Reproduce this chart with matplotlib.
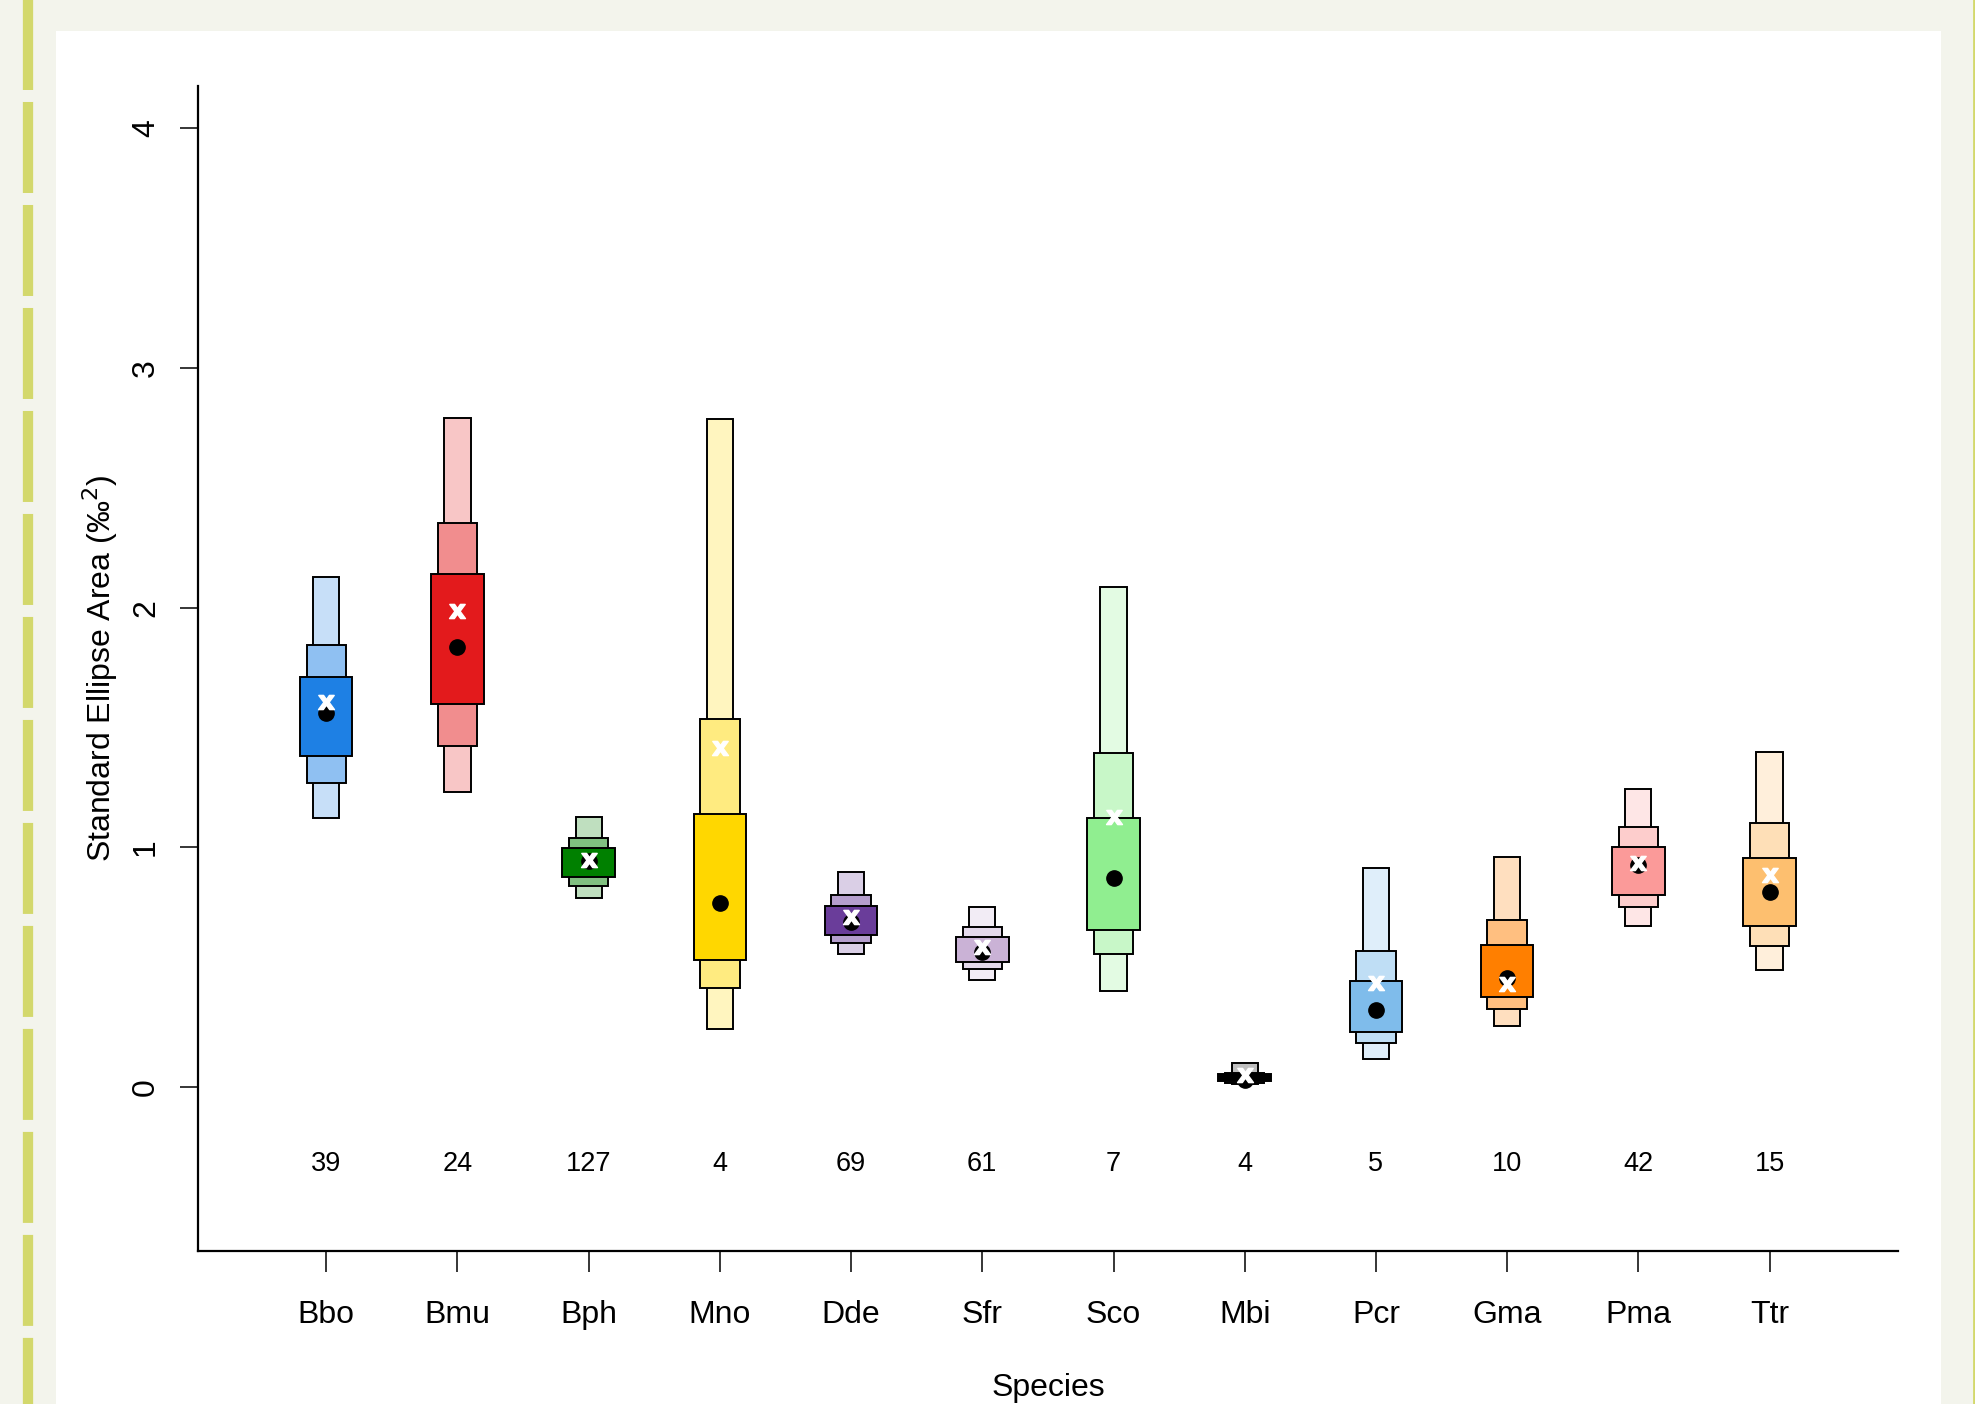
import matplotlib
matplotlib.use('Agg')
import matplotlib.pyplot as plt
from matplotlib.patches import Rectangle
from matplotlib.lines import Line2D
from matplotlib.colors import to_rgb

plt.rcParams['font.family'] = ['Liberation Sans', 'DejaVu Sans']

# Especies e numero de amostras
especies = ['Bbo', 'Bmu', 'Bph', 'Mno', 'Dde', 'Sfr', 'Sco', 'Mbi', 'Pcr', 'Gma', 'Pma', 'Ttr']
n_amostras = [39, 24, 127, 4, 69, 61, 7, 4, 5, 10, 42, 15]

# Intervalos de credibilidade da area da elipse (limite inferior, superior)
ic95_inf = [1.121, 1.232, 0.790, 0.242, 0.554, 0.447, 0.400, 0.0125, 0.117, 0.255, 0.673, 0.488]
ic95_sup = [2.130, 2.790, 1.128, 2.789, 0.899, 0.750, 2.086, 0.101, 0.913, 0.961, 1.242, 1.400]
ic75_inf = [1.270, 1.425, 0.840, 0.414, 0.600, 0.492, 0.554, 0.018, 0.182, 0.324, 0.753, 0.590]
ic75_sup = [1.845, 2.353, 1.038, 1.538, 0.801, 0.667, 1.395, 0.060, 0.569, 0.697, 1.084, 1.100]
ic50_inf = [1.383, 1.599, 0.878, 0.531, 0.636, 0.523, 0.655, 0.026, 0.228, 0.377, 0.801, 0.672]
ic50_sup = [1.710, 2.141, 0.996, 1.140, 0.755, 0.627, 1.124, 0.053, 0.444, 0.594, 1.003, 0.957]

# Moda posterior (ponto) e estimativa SEAc (x)
moda = [1.560, 1.838, 0.945, 0.768, 0.690, 0.565, 0.871, 0.030, 0.321, 0.454, 0.927, 0.815]
seac = [1.608, 1.988, 0.947, 1.414, 0.708, 0.586, 1.128, 0.050, 0.433, 0.429, 0.936, 0.885]

cores = ['#1E80E4', '#E31A1C', '#008000', '#FFD700', '#6A3D9A', '#CAB2D6',
         '#90EE90', '#000000', '#7FBCEB', '#FF7F00', '#FB9A99', '#FDBF6F']


def clarear(cor, frac):
    r, g, b = to_rgb(cor)
    return (1 - frac + frac * r, 1 - frac + frac * g, 1 - frac + frac * b)


W, H = 1975, 1404
fig = plt.figure(figsize=(W / 100, H / 100), dpi=100)
fig.patch.set_facecolor('#F3F4EC')

# painel branco e bordas
fig.patches.append(Rectangle((56 / W, 0), (1941 - 56) / W, (H - 31) / H,
                             transform=fig.transFigure, facecolor='white',
                             edgecolor='none', zorder=-1))
fig.add_artist(Line2D([28.3 / W, 28.3 / W], [1 + 90 / H, 0], transform=fig.transFigure,
                      color='#D3D86C', lw=7.4, solid_capstyle='butt',
                      dash_capstyle='butt', linestyle=(0, (91 / 7.4 / 1.389, 12 / 7.4 / 1.389))))
fig.add_artist(Line2D([1974 / W, 1974 / W], [1, 0], transform=fig.transFigure,
                      color='#D3D86C', lw=2))

ax = fig.add_axes([197.8 / W, 1 - 1251 / H, (1898 - 197.8) / W, (1251 - 85.6) / H])
ax.set_facecolor('none')
ax.set_zorder(2)

larguras = [0.1, 0.15, 0.2]
for i, esp in enumerate(especies):
    x = i + 1
    niveis = [(ic95_inf[i], ic95_sup[i], 0.25),
              (ic75_inf[i], ic75_sup[i], 0.5),
              (ic50_inf[i], ic50_sup[i], 1.0)]
    for (lo, hi, frac), hw in zip(niveis, larguras):
        ax.add_patch(Rectangle((x - hw, lo), 2 * hw, hi - lo,
                               facecolor=clarear(cores[i], frac),
                               edgecolor='black', lw=1.4, zorder=2))
    ax.plot(x, moda[i], 'o', color='black', markersize=11, zorder=3)
    ax.plot(x, seac[i], marker=r'$\mathbf{x}$', color='white', markersize=11.5,
            linestyle='none', zorder=4)
    ax.text(x, -0.32, str(n_amostras[i]), ha='center', va='center', fontsize=19.5)

ax.set_xlim(0.021, 12.979)
ax.set_ylim(-0.684, 4.179)

ax.spines['top'].set_visible(False)
ax.spines['right'].set_visible(False)
for s in ['left', 'bottom']:
    ax.spines[s].set_linewidth(1.6)

ax.set_xticks(range(1, 13))
ax.set_xticklabels(especies)
ax.set_yticks([0, 1, 2, 3, 4])
ax.set_yticklabels(['0', '1', '2', '3', '4'], rotation=90, va='center')
ax.tick_params(axis='x', length=15, width=1.1, pad=20, labelsize=23)
ax.tick_params(axis='y', length=13, width=1.1, pad=13.5, labelsize=23)

ax.set_xlabel('Species', fontsize=23, labelpad=31)
ax.set_ylabel('Standard Ellipse Area (‰$^2$)', fontsize=23, labelpad=8)

fig.savefig('out.png', dpi=100, facecolor=fig.get_facecolor())
